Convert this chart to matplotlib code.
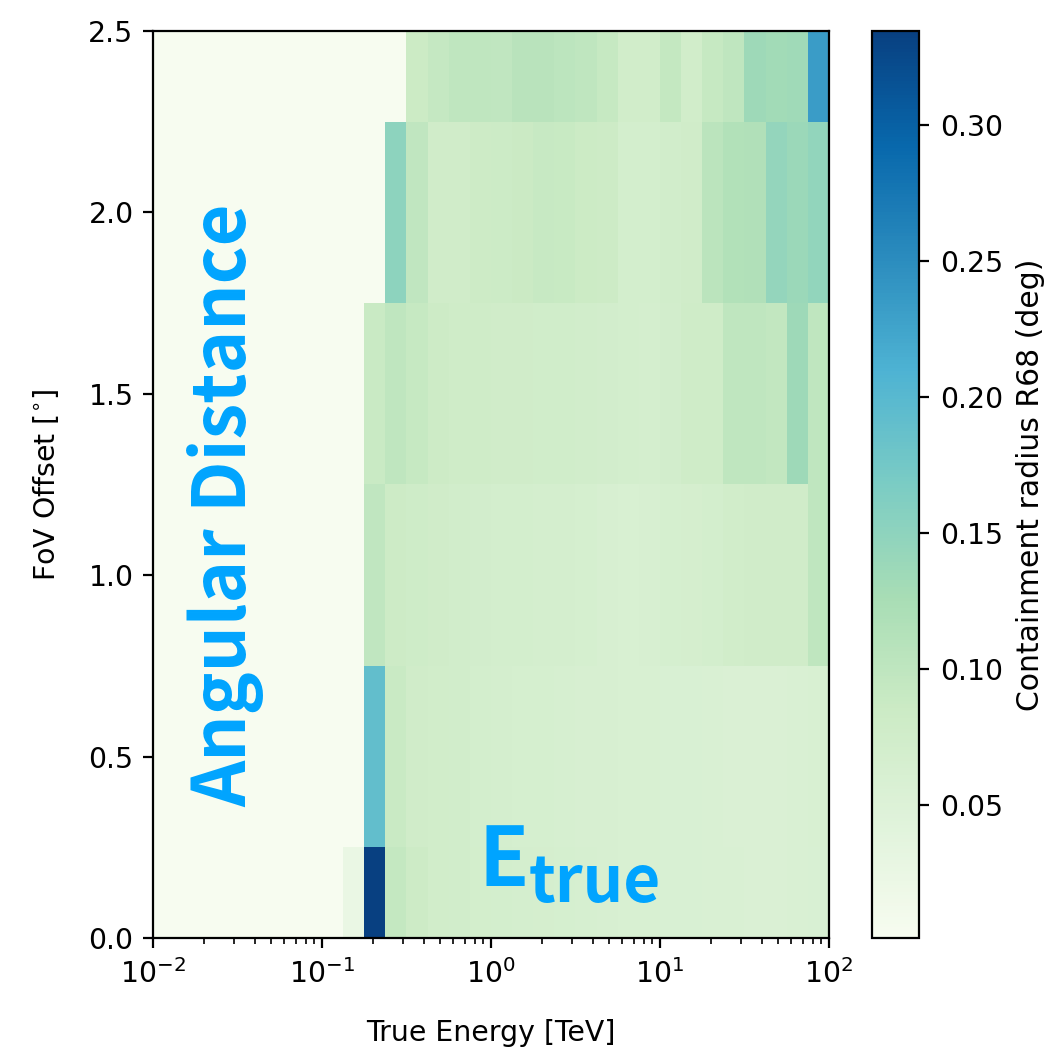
import numpy as np
import matplotlib
matplotlib.use('Agg')
import matplotlib.pyplot as plt

# energy binning: 8 bins per decade, 0.01 - 100 TeV
energy_edges = np.logspace(-2, 2, 33)
offset_edges = [0.0, 0.25, 0.75, 1.25, 1.75, 2.25, 2.5]

floor_value = 0.0013

# first filled energy bin in each offset row, and R68 values (deg) from there on
row_start = [9, 10, 10, 10, 11, 12]
r68_row0 = [0.025, 0.3345, 0.094, 0.083, 0.075, 0.073, 0.071, 0.070, 0.068, 0.067, 0.066,
            0.064, 0.063, 0.061, 0.061, 0.059, 0.059, 0.058, 0.058, 0.057, 0.057, 0.058, 0.059]
r68_row1 = [0.191, 0.088, 0.078, 0.075, 0.073, 0.070, 0.068, 0.066, 0.066, 0.064, 0.063,
            0.062, 0.061, 0.060, 0.059, 0.059, 0.058, 0.057, 0.057, 0.057, 0.058, 0.060]
r68_row2 = [0.098, 0.083, 0.080, 0.077, 0.074, 0.072, 0.070, 0.070, 0.068, 0.068, 0.066,
            0.063, 0.061, 0.062, 0.066, 0.067, 0.070, 0.075, 0.077, 0.078, 0.078, 0.099]
r68_row3 = [0.088, 0.100, 0.092, 0.082, 0.079, 0.079, 0.077, 0.077, 0.076, 0.076, 0.074,
            0.072, 0.070, 0.068, 0.072, 0.079, 0.079, 0.100, 0.100, 0.097, 0.136, 0.100]
r68_row4 = [0.151, 0.098, 0.078, 0.078, 0.082, 0.084, 0.087, 0.090, 0.089, 0.085, 0.083,
            0.070, 0.070, 0.074, 0.078, 0.105, 0.115, 0.117, 0.145, 0.138, 0.147]
r68_row5 = [0.085, 0.093, 0.100, 0.100, 0.098, 0.107, 0.107, 0.104, 0.100, 0.092,
            0.075, 0.075, 0.095, 0.075, 0.092, 0.100, 0.136, 0.132, 0.134, 0.233]

rows = [r68_row0, r68_row1, r68_row2, r68_row3, r68_row4, r68_row5]
r68 = np.full((len(rows), len(energy_edges) - 1), floor_value)
for i, (start, vals) in enumerate(zip(row_start, rows)):
    r68[i, start:start + len(vals)] = vals

plt.rcParams.update({
    'font.size': 20.4,
    'axes.linewidth': 1.6,
    'xtick.major.size': 7, 'xtick.major.width': 1.6, 'xtick.major.pad': 8,
    'xtick.minor.size': 4, 'xtick.minor.width': 1.2,
    'ytick.major.size': 7, 'ytick.major.width': 1.6, 'ytick.major.pad': 7,
})

fig = plt.figure(figsize=(10.5, 10.53), dpi=100)
ax = fig.add_axes([0.1457, 0.1092, 0.6438, 0.8614])
cax = fig.add_axes([0.8305, 0.1092, 0.0448, 0.8614])

mesh = ax.pcolormesh(energy_edges, offset_edges, r68, cmap='GnBu',
                     vmin=floor_value, vmax=0.3345)
ax.set_xscale('log')
ax.set_xlim(1e-2, 1e2)
ax.set_ylim(0, 2.5)
ax.set_yticks([0.0, 0.5, 1.0, 1.5, 2.0, 2.5])
ax.set_xlabel('True Energy [TeV]', labelpad=22)
ax.set_ylabel('FoV Offset [$^{\\circ}$]', labelpad=20)

cb = fig.colorbar(mesh, cax=cax)
cb.set_ticks([0.05, 0.10, 0.15, 0.20, 0.25, 0.30])
cb.ax.tick_params(pad=8)
cb.set_label('Containment radius R68 (deg)', labelpad=9, fontsize=21.5)

# overlaid annotations
txt_color = '#00a4ff'
fam = ['Noto Sans CJK JP', 'DejaVu Sans']
fig.text(226 / 1050, 1 - 505 / 1053, 'Angular Distance', rotation=90, ha='center', va='center',
         fontsize=52, fontweight='bold', color=txt_color, family=fam)
fig.text(479 / 1050, 1 - 886 / 1053, 'E', ha='left', va='baseline',
         fontsize=59, fontweight='bold', color=txt_color, family=fam)
fig.text(529 / 1050, 1 - 902 / 1053, 'true', ha='left', va='baseline',
         fontsize=46, fontweight='bold', color=txt_color, family=fam)

fig.savefig('out.png', dpi=100)
